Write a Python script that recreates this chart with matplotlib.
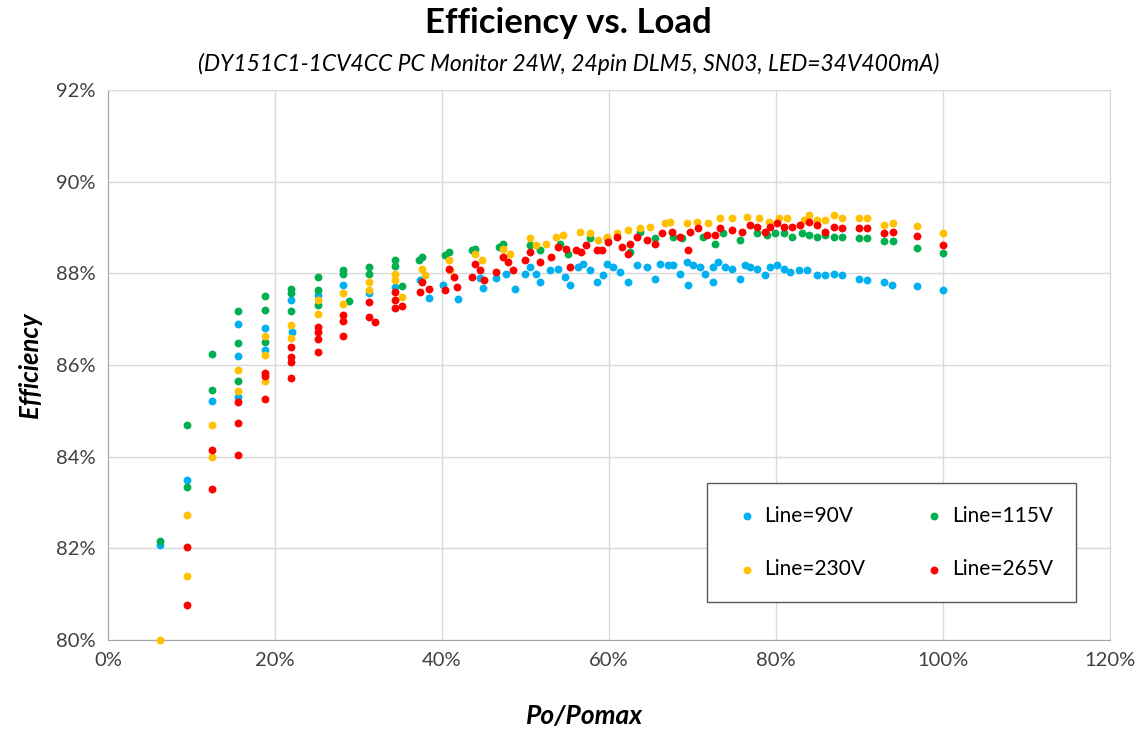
import matplotlib
matplotlib.use("Agg")
from matplotlib import pyplot as plt
from matplotlib.ticker import FuncFormatter

plt.rcParams['font.family'] = ['Lato', 'DejaVu Sans']

# Po/Pomax (%) and efficiency (%) per input line voltage
load_90 = [6.25, 9.4, 12.5, 15.6, 15.6, 15.6, 18.8, 18.8, 21.9, 22.0,
           25.1, 28.2, 31.3, 34.4, 37.4, 38.4, 40.1, 41.9, 44.6, 44.9,
           46.5, 47.7, 48.7, 49.9, 50.5, 51.3, 51.7, 52.9, 53.9, 54.7,
           55.3, 56.3, 56.9, 57.7, 58.5, 59.3, 59.7, 60.5, 61.3, 62.3,
           63.3, 64.5, 65.5, 66.1, 67.1, 67.7, 68.5, 69.3, 69.5, 70.1,
           70.9, 71.5, 72.5, 72.5, 73.1, 73.9, 74.7, 75.7, 76.3, 76.9,
           77.7, 78.7, 79.3, 80.1, 80.9, 81.7, 82.7, 83.7, 84.9, 85.9,
           86.9, 87.9, 89.9, 90.9, 92.9, 93.9, 96.9, 100.0]
eff_90 = [82.08, 83.48, 85.21, 86.89, 86.19, 85.30, 86.80, 86.33, 87.41, 86.72,
          87.52, 87.74, 87.56, 87.70, 87.85, 87.47, 87.74, 87.45, 87.89, 87.69,
          87.89, 87.99, 87.66, 87.99, 88.14, 87.99, 87.81, 88.07, 88.10, 87.92,
          87.74, 88.14, 88.21, 88.07, 87.81, 87.96, 88.21, 88.14, 88.03, 87.81,
          88.18, 88.14, 87.88, 88.21, 88.18, 88.18, 87.99, 88.25, 87.75, 88.18,
          88.14, 87.99, 88.14, 87.80, 88.25, 88.14, 88.10, 87.88, 88.18, 88.14,
          88.10, 87.96, 88.14, 88.18, 88.10, 88.03, 88.07, 88.07, 87.96, 87.97,
          87.99, 87.96, 87.88, 87.85, 87.80, 87.75, 87.72, 87.63]

load_115 = [6.25, 9.4, 9.4, 12.5, 12.5, 15.6, 15.6, 15.6, 18.8, 18.8,
            18.8, 21.9, 21.9, 21.9, 25.1, 25.1, 25.1, 28.2, 28.2, 28.8,
            31.3, 31.3, 34.4, 34.4, 35.2, 37.2, 37.6, 40.4, 40.8, 43.6,
            44.0, 46.8, 47.3, 50.5, 51.7, 54.1, 55.1, 57.7, 59.7, 62.5,
            63.7, 65.5, 67.7, 68.7, 71.3, 72.7, 73.7, 75.7, 77.7, 78.9,
            79.9, 80.9, 81.9, 83.1, 83.9, 84.9, 85.9, 86.9, 87.9, 89.9,
            90.9, 92.9, 94.0, 96.9, 100.0]
eff_115 = [82.15, 84.68, 83.33, 86.24, 85.46, 87.18, 86.48, 85.64, 87.50, 87.21,
           86.50, 87.66, 87.56, 87.17, 87.93, 87.63, 87.30, 88.07, 87.99, 87.39,
           88.14, 87.99, 88.28, 88.17, 87.72, 88.28, 88.36, 88.39, 88.47, 88.50,
           88.54, 88.58, 88.65, 88.61, 88.50, 88.65, 88.43, 88.76, 88.76, 88.47,
           88.90, 88.76, 88.79, 88.76, 88.79, 88.65, 88.87, 88.72, 88.87, 88.83,
           88.87, 88.87, 88.79, 88.87, 88.83, 88.79, 88.83, 88.79, 88.79, 88.77,
           88.77, 88.70, 88.70, 88.56, 88.45]

load_230 = [6.25, 9.4, 9.4, 12.5, 12.5, 15.6, 15.6, 18.8, 18.8, 18.8,
            21.9, 21.9, 25.1, 25.1, 28.2, 28.2, 31.3, 31.3, 34.4, 34.4,
            35.2, 37.6, 38.0, 40.8, 41.0, 44.0, 44.8, 47.3, 48.1, 50.5,
            51.3, 52.5, 53.7, 54.5, 56.5, 57.7, 58.7, 59.7, 60.9, 62.3,
            63.7, 64.9, 66.7, 67.3, 69.3, 70.5, 71.9, 73.3, 74.7, 76.5,
            77.9, 79.1, 80.3, 81.3, 83.3, 83.9, 84.9, 85.9, 86.9, 87.9,
            89.9, 90.9, 92.9, 94.0, 96.9, 100.0]
eff_230 = [80.00, 82.73, 81.40, 84.68, 84.00, 85.90, 85.44, 86.63, 86.21, 85.65,
           86.88, 86.59, 87.41, 87.12, 87.57, 87.34, 87.81, 87.63, 87.99, 87.85,
           87.48, 88.10, 87.96, 88.28, 88.07, 88.43, 88.28, 88.52, 88.43, 88.76,
           88.61, 88.65, 88.79, 88.83, 88.90, 88.87, 88.72, 88.79, 88.87, 88.94,
           88.98, 89.01, 89.09, 89.12, 89.09, 89.12, 89.09, 89.20, 89.20, 89.23,
           89.20, 89.12, 89.20, 89.20, 89.16, 89.27, 89.16, 89.16, 89.27, 89.20,
           89.20, 89.20, 89.05, 89.09, 89.03, 88.87]

load_265 = [9.4, 9.4, 12.5, 12.5, 15.6, 15.6, 15.6, 18.8, 18.8, 18.8,
            21.9, 21.9, 21.9, 21.9, 25.1, 25.1, 25.1, 25.1, 28.2, 28.2,
            28.2, 31.3, 31.3, 32.0, 34.4, 34.4, 34.4, 35.2, 37.4, 37.6,
            38.4, 40.4, 40.8, 41.4, 41.8, 43.6, 44.0, 44.6, 45.0, 46.5,
            47.3, 47.9, 48.5, 49.9, 50.5, 51.7, 53.1, 53.9, 54.9, 55.3,
            56.1, 56.7, 57.3, 58.5, 59.1, 59.9, 60.9, 61.5, 62.3, 62.5,
            63.3, 64.5, 65.5, 66.3, 67.5, 68.5, 69.5, 69.7, 70.7, 71.7,
            72.7, 73.3, 74.7, 75.9, 76.9, 77.7, 78.7, 79.3, 80.1, 80.9,
            81.9, 82.9, 83.9, 84.9, 85.9, 86.9, 87.9, 89.9, 90.9, 92.9,
            94.0, 96.9, 100.0]
eff_265 = [82.02, 80.76, 84.15, 83.29, 85.19, 84.74, 84.04, 85.82, 85.75, 85.25,
           86.40, 86.17, 86.06, 85.72, 86.83, 86.72, 86.57, 86.28, 87.08, 86.97,
           86.64, 87.37, 87.05, 86.94, 87.59, 87.41, 87.25, 87.28, 87.59, 87.81,
           87.66, 87.63, 88.10, 87.92, 87.70, 87.92, 88.21, 88.07, 87.85, 88.03,
           88.36, 88.25, 88.07, 88.28, 88.47, 88.25, 88.36, 88.58, 88.54, 88.14,
           88.50, 88.47, 88.61, 88.50, 88.50, 88.69, 88.79, 88.58, 88.43, 88.65,
           88.79, 88.72, 88.65, 88.87, 88.90, 88.79, 88.50, 88.90, 88.98, 88.83,
           88.83, 88.98, 88.94, 88.90, 89.05, 89.01, 88.90, 89.01, 89.09, 89.01,
           89.01, 89.05, 89.12, 89.05, 88.90, 89.01, 88.98, 88.98, 88.98, 88.87,
           88.90, 88.82, 88.61]

series = [
    (load_90, eff_90, "Line=90V", "#00B0F0"),
    (load_115, eff_115, "Line=115V", "#00B050"),
    (load_230, eff_230, "Line=230V", "#FFC000"),
    (load_265, eff_265, "Line=265V", "#FF0000"),
]

fig = plt.figure(figsize=(11.37, 7.31), dpi=100)
ax = fig.add_axes([0.095, 0.1245, 0.8813, 0.7524])

handles = []
for x, y, name, color in series:
    h = ax.scatter(x, y, s=32, color=color, label=name, linewidths=0, clip_on=False, zorder=3)
    handles.append(h)

ax.set_xlim(0, 120)
ax.set_ylim(80, 92)
ax.set_xticks(range(0, 121, 20))
ax.set_yticks(range(80, 93, 2))
ax.xaxis.set_major_formatter(FuncFormatter(lambda v, p: "%d%%" % v))
ax.yaxis.set_major_formatter(FuncFormatter(lambda v, p: "%d%%" % v))
ax.tick_params(length=0, labelsize=14.5, colors="#404040", pad=9)
ax.grid(True, color="#d9d9d9", linewidth=1)
ax.set_axisbelow(True)
for sp in ax.spines.values():
    sp.set_color("#d9d9d9")
ax.spines["left"].set_color("#a6a6a6")
ax.spines["bottom"].set_color("#a6a6a6")

ax.set_xlabel("Po/Pomax", fontsize=19, fontweight="bold", fontstyle="italic")
ax.xaxis.set_label_coords((585 - 108) / 1002, -0.117)
ax.set_ylabel("Efficiency", fontsize=18.5, fontweight="bold", fontstyle="italic", labelpad=10)

fig.text(0.5, 0.968, "Efficiency vs. Load", ha="center", va="center", fontsize=25, fontweight="bold")
fig.text(0.5, 0.913, "(DY151C1-1CV4CC PC Monitor 24W, 24pin DLM5, SN03, LED=34V400mA)",
         ha="center", va="center", fontsize=16.5, fontstyle="italic")

# row-wise legend order: 90V, 115V / 230V, 265V
order = [0, 2, 1, 3]
leg = ax.legend([handles[i] for i in order], [series[i][2] for i in order],
                loc="upper left", bbox_to_anchor=(707 / 1137, 1 - 483 / 731),
                bbox_transform=fig.transFigure, borderaxespad=0, ncol=2, fontsize=15,
                scatterpoints=1, frameon=True, fancybox=False, edgecolor="#595959",
                framealpha=1, borderpad=1.1, labelspacing=1.6, columnspacing=2.5,
                handletextpad=0.05, handlelength=1.6)
leg.get_frame().set_linewidth(1)

plt.savefig("out.png", dpi=100)
plt.close()
